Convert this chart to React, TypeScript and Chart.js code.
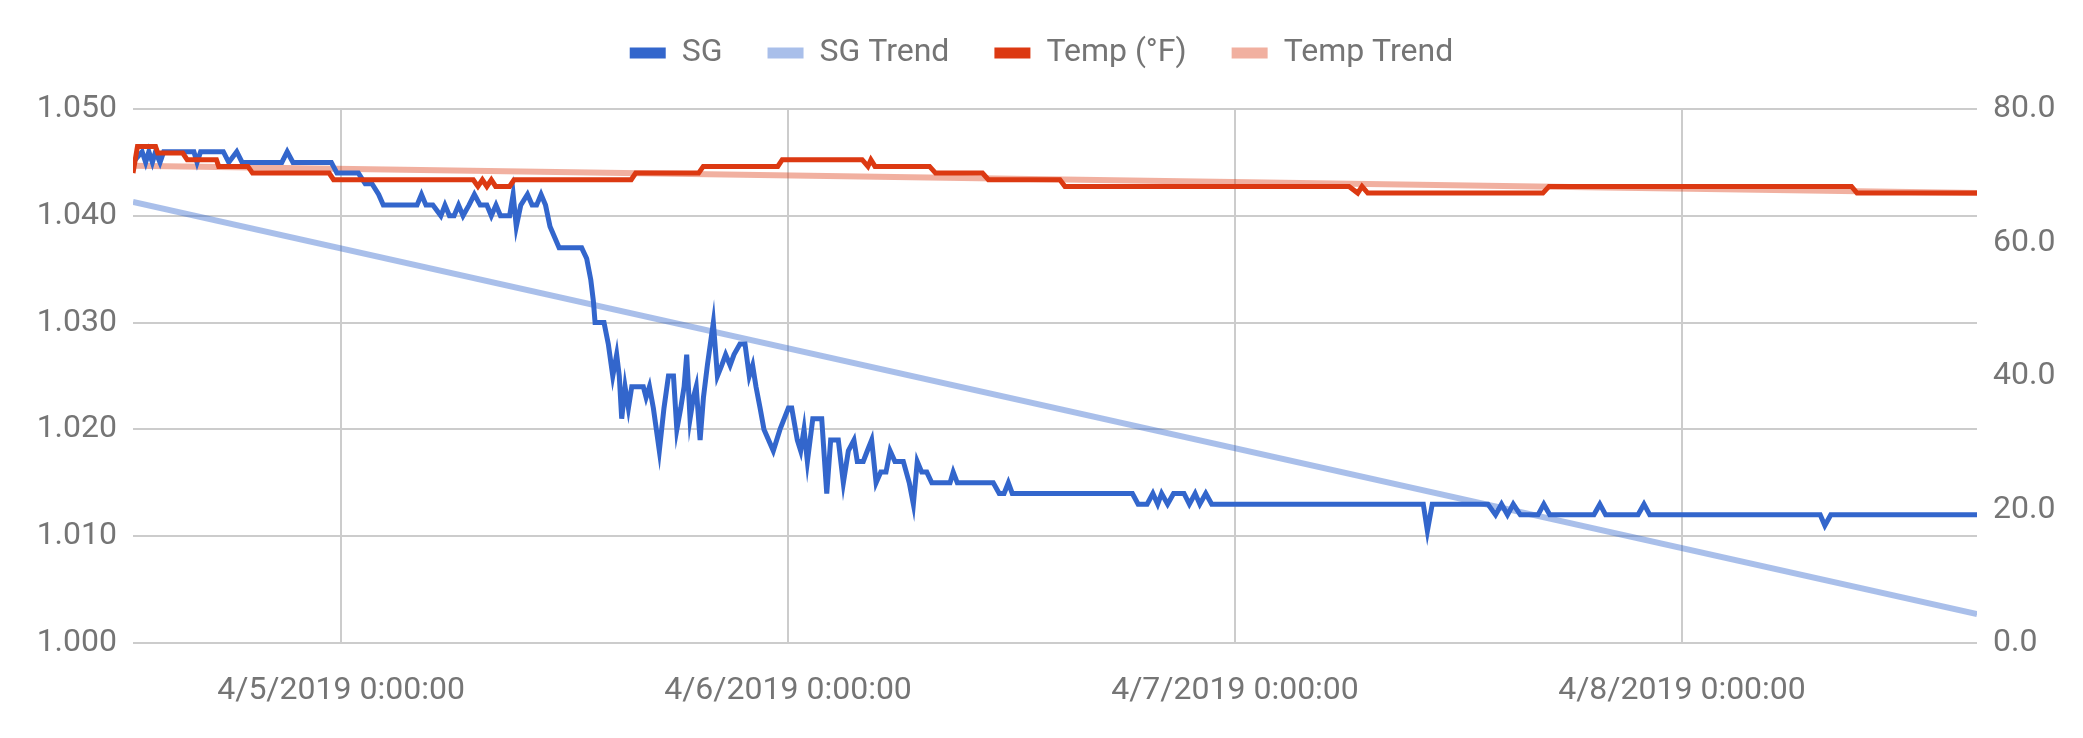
import React, { useEffect, useRef } from "react";
import { Chart, registerables } from "chart.js";

Chart.register(...registerables);

// Time is expressed in hours since 4/4/2019 0:00:00
const SG_HOURS = [
  12.83, 13.32, 13.51, 13.68, 13.87, 14.04, 14.28, 14.48, 16.1, 16.27, 16.46, 17.68, 17.97, 18.4, 18.69, 20.82,
  21.11, 21.42, 23.48, 23.78, 24.93, 25.3, 25.66, 26.02, 26.27, 28.08, 28.32, 28.56, 28.93, 29.36, 29.58, 29.82,
  30.07, 30.31, 30.55, 30.87, 31.16, 31.47, 31.83, 32.07, 32.32, 32.56, 33.05, 33.24, 33.41, 33.65, 34.01, 34.26,
  34.5, 34.74, 34.98, 35.22, 35.71, 36.92, 37.19, 37.41, 37.55, 37.64, 38.12, 38.35, 38.59, 38.8, 38.94, 39.07,
  39.25, 39.43, 39.61, 39.88, 40.23, 40.38, 40.56, 40.77, 41.09, 41.34, 41.58, 41.85, 42.03, 42.24, 42.42, 42.56,
  42.74, 42.92, 43.07, 43.28, 43.46, 43.67, 43.99, 44.21, 44.44, 44.65, 44.89, 45.1, 45.42, 45.69, 45.92, 46.1,
  46.28, 46.5, 46.71, 47.21, 47.57, 48.02, 48.2, 48.5, 48.68, 48.86, 49.04, 49.33, 49.81, 50.08, 50.29, 50.7,
  50.97, 51.24, 51.54, 51.72, 52.04, 52.26, 52.49, 52.73, 52.98, 53.26, 53.48, 53.74, 54.19, 54.51, 54.73, 54.94,
  55.18, 55.45, 55.72, 56.7, 56.87, 57.09, 59.02, 59.34, 59.6, 59.83, 60.04, 66.49, 66.8, 67.28, 67.59, 67.85,
  68.06, 68.38, 68.7, 69.26, 69.55, 69.86, 70.11, 70.43, 70.75, 82.11, 82.33, 82.59, 85.58, 85.99, 86.31, 86.63,
  86.94, 87.32, 88.27, 88.58, 88.9, 91.27, 91.59, 91.9, 93.64, 93.96, 94.27, 103.42, 103.67, 103.99, 111.84,
];
const SG_VALUES = [
  1.045, 1.046, 1.045, 1.046, 1.045, 1.046, 1.045, 1.046, 1.046, 1.045, 1.046, 1.046, 1.045, 1.046, 1.045, 1.045,
  1.046, 1.045, 1.045, 1.044, 1.044, 1.043, 1.043, 1.042, 1.041, 1.041, 1.042, 1.041, 1.041, 1.04, 1.041, 1.04,
  1.04, 1.041, 1.04, 1.041, 1.042, 1.041, 1.041, 1.04, 1.041, 1.04, 1.04, 1.042, 1.039, 1.041, 1.042, 1.041,
  1.041, 1.042, 1.041, 1.039, 1.037, 1.037, 1.036, 1.034, 1.032, 1.03, 1.03, 1.028, 1.025, 1.027, 1.025, 1.021,
  1.024, 1.022, 1.024, 1.024, 1.024, 1.023, 1.024, 1.022, 1.018, 1.022, 1.025, 1.025, 1.02, 1.022, 1.024, 1.027,
  1.021, 1.023, 1.024, 1.019, 1.023, 1.026, 1.03, 1.025, 1.026, 1.027, 1.026, 1.027, 1.028, 1.028, 1.025, 1.026,
  1.024, 1.022, 1.02, 1.018, 1.02, 1.022, 1.022, 1.019, 1.018, 1.02, 1.017, 1.021, 1.021, 1.014, 1.019, 1.019,
  1.015, 1.018, 1.019, 1.017, 1.017, 1.018, 1.019, 1.015, 1.016, 1.016, 1.018, 1.017, 1.017, 1.015, 1.013, 1.017,
  1.016, 1.016, 1.015, 1.015, 1.016, 1.015, 1.015, 1.014, 1.014, 1.015, 1.014, 1.014, 1.013, 1.013, 1.014, 1.013,
  1.014, 1.013, 1.014, 1.014, 1.013, 1.014, 1.013, 1.014, 1.013, 1.013, 1.0105, 1.013, 1.013, 1.012, 1.013, 1.012,
  1.013, 1.012, 1.012, 1.013, 1.012, 1.012, 1.013, 1.012, 1.012, 1.013, 1.012, 1.012, 1.011, 1.012, 1.012,
];

const TEMP_HOURS = [
  12.83, 13.07, 14.04, 14.16, 15.5, 15.74, 17.31, 17.43, 19.0, 19.25, 23.36, 23.6, 31.1, 31.35, 31.59, 31.83,
  32.07, 32.3, 33.05, 33.29, 39.58, 39.82, 43.2, 43.45, 47.45, 47.69, 51.98, 52.29, 52.45, 52.67, 55.6, 55.92,
  58.44, 58.76, 62.6, 62.87, 78.12, 78.59, 78.82, 79.13, 88.53, 88.86, 105.1, 105.4, 111.84,
];
const TEMP_VALUES = [
  70.4, 74.4, 74.4, 73.4, 73.4, 72.4, 72.4, 71.4, 71.4, 70.4, 70.4, 69.4, 69.4, 68.4, 69.4, 68.4,
  69.4, 68.4, 68.4, 69.4, 69.4, 70.4, 70.4, 71.4, 71.4, 72.4, 72.4, 71.4, 72.4, 71.4, 71.4, 70.4,
  70.4, 69.4, 69.4, 68.4, 68.4, 67.4, 68.4, 67.4, 67.4, 68.4, 68.4, 67.4, 67.4,
];

const TREND_HOURS = [12.83, 111.84];
const SG_TREND_VALUES = [1.0413, 1.0027];
const TEMP_TREND_VALUES = [71.5, 67.4];

const X_TICK_HOURS = [24, 48, 72, 96];
const X_TICK_LABELS = ["4/5/2019 0:00:00", "4/6/2019 0:00:00", "4/7/2019 0:00:00", "4/8/2019 0:00:00"];
const SERIES_NAMES = ["SG", "SG Trend", "Temp (°F)", "Temp Trend"];
const SERIES_COLORS = ["#3366cc", "rgba(51,102,204,0.42)", "#dc3912", "rgba(220,57,18,0.4)"];

const W = 2083;
const H = 738;
const TEXT = "#757575";
const GRID = "#cccccc";
const FONT = { family: "Roboto", size: 32 };

const toPoints = (xs: number[], ys: number[]) => xs.map((x, i) => ({ x, y: ys[i] }));

export default function App() {
  const ref = useRef<HTMLCanvasElement>(null);

  useEffect(() => {
    const legendPlugin = {
      id: "legendLayout",
      beforeLayout(chart: any) {
        const lg = chart.legend;
        if (lg && !lg.__patched) {
          const orig = lg.fit;
          lg.fit = function () {
            orig.call(this);
            this.height = 109;
          };
          lg.__patched = true;
        }
      },
      afterLayout(chart: any) {
        const lg = chart.legend;
        if (lg) {
          lg.top -= 8;
          lg.bottom -= 8;
        }
      },
    };

    const chart = new Chart(ref.current as HTMLCanvasElement, {
      type: "line",
      data: {
        datasets: [
          {
            label: SERIES_NAMES[0],
            data: toPoints(SG_HOURS, SG_VALUES),
            borderColor: SERIES_COLORS[0],
            backgroundColor: SERIES_COLORS[0],
            borderWidth: 5,
            pointRadius: 0,
            tension: 0,
            yAxisID: "y",
            order: 1,
          },
          {
            label: SERIES_NAMES[1],
            data: toPoints(TREND_HOURS, SG_TREND_VALUES),
            borderColor: SERIES_COLORS[1],
            backgroundColor: SERIES_COLORS[1],
            borderWidth: 6,
            pointRadius: 0,
            yAxisID: "y",
            order: 3,
          },
          {
            label: SERIES_NAMES[2],
            data: toPoints(TEMP_HOURS, TEMP_VALUES),
            borderColor: SERIES_COLORS[2],
            backgroundColor: SERIES_COLORS[2],
            borderWidth: 5,
            pointRadius: 0,
            tension: 0,
            yAxisID: "y1",
            order: 0,
          },
          {
            label: SERIES_NAMES[3],
            data: toPoints(TREND_HOURS, TEMP_TREND_VALUES),
            borderColor: SERIES_COLORS[3],
            backgroundColor: SERIES_COLORS[3],
            borderWidth: 6,
            pointRadius: 0,
            yAxisID: "y1",
            order: 2,
          },
        ],
      },
      options: {
        animation: false,
        responsive: false,
        devicePixelRatio: 1,
        layout: { padding: 0 },
        plugins: {
          tooltip: { enabled: false },
          legend: {
            position: "top",
            labels: {
              boxWidth: 36,
              boxHeight: 11,
              padding: 45,
              color: TEXT,
              font: FONT,
              generateLabels: (c: any) =>
                c.data.datasets.map((ds: any, i: number) => ({
                  text: ds.label,
                  fillStyle: SERIES_COLORS[i],
                  strokeStyle: "rgba(0,0,0,0)",
                  lineWidth: 0,
                  hidden: false,
                  datasetIndex: i,
                  fontColor: TEXT,
                })),
            },
          },
        },
        scales: {
          x: {
            type: "linear",
            min: TREND_HOURS[0],
            max: TREND_HOURS[1],
            afterBuildTicks: (scale: any) => {
              scale.ticks = X_TICK_HOURS.map((v) => ({ value: v }));
            },
            afterFit: (scale: any) => {
              scale.height = 95;
            },
            ticks: {
              autoSkip: false,
              maxRotation: 0,
              padding: 29,
              color: TEXT,
              font: FONT,
              callback: (v: any) => {
                const i = X_TICK_HOURS.indexOf(Number(v));
                return i >= 0 ? X_TICK_LABELS[i] : "";
              },
            },
            grid: { color: GRID, lineWidth: 2, drawTicks: false },
            border: { display: false },
          },
          y: {
            position: "left",
            min: 1.0,
            max: 1.05,
            afterFit: (scale: any) => {
              scale.width = 133;
            },
            ticks: {
              stepSize: 0.01,
              padding: 16,
              color: TEXT,
              font: FONT,
              callback: (v: any) => Number(v).toFixed(3),
            },
            grid: { color: GRID, lineWidth: 2, drawTicks: false },
            border: { display: false },
          },
          y1: {
            position: "right",
            min: 0,
            max: 80,
            afterFit: (scale: any) => {
              scale.width = W - 1977;
            },
            ticks: {
              stepSize: 20,
              padding: 16,
              color: TEXT,
              font: FONT,
              callback: (v: any) => Number(v).toFixed(1),
            },
            grid: { drawOnChartArea: false, drawTicks: false },
            border: { display: false },
          },
        },
      },
      plugins: [legendPlugin],
    } as any);

    return () => chart.destroy();
  }, []);

  return (
    <div style={{ position: "fixed", left: 0, top: 0, width: W, height: H, background: "#ffffff" }}>
      <canvas ref={ref} width={W} height={H} style={{ display: "block", width: W, height: H }} />
    </div>
  );
}
